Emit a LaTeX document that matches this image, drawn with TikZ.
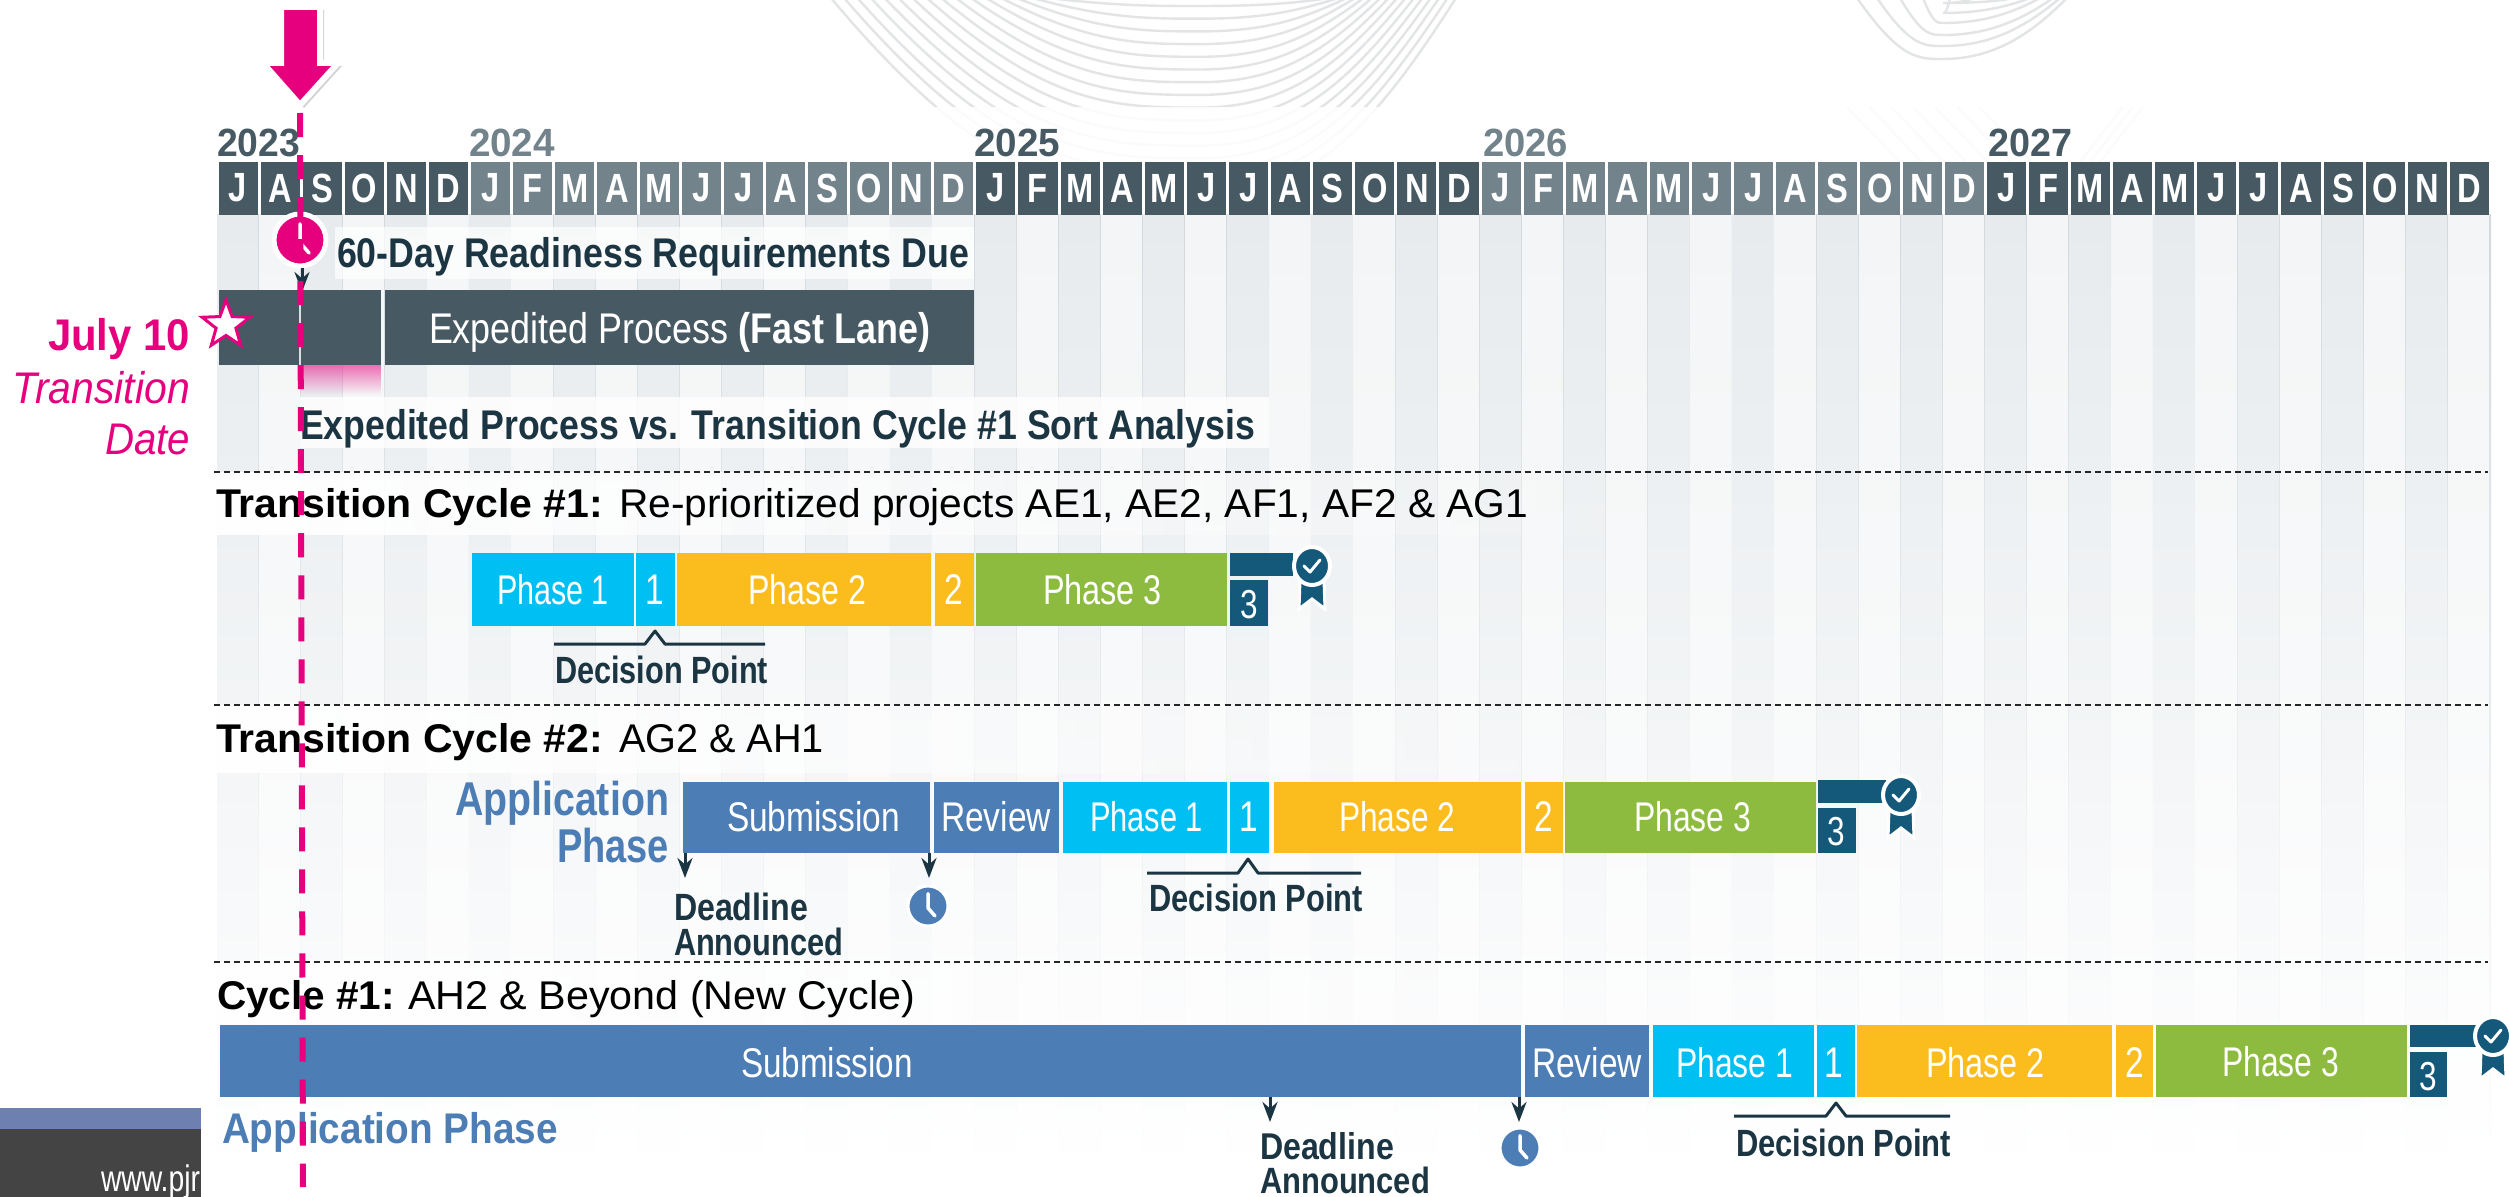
\documentclass[tikz,border=0pt]{standalone}
\usepackage{fontspec}
\usepackage{graphicx}
\setmainfont{Liberation Sans}
\usetikzlibrary{arrows.meta,shapes.geometric,shadows,fadings}
\definecolor{hdark}{HTML}{475A64}
\definecolor{hlight}{HTML}{73838B}
\definecolor{pinkc}{HTML}{E6007E}
\definecolor{inkc}{HTML}{1C3542}
\definecolor{cyanc}{HTML}{00BFF3}
\definecolor{yelc}{HTML}{FBBC1E}
\definecolor{grnc}{HTML}{8DBB3F}
\definecolor{bluec}{HTML}{4C7DB5}
\definecolor{tealc}{HTML}{14597A}
\definecolor{colA}{HTML}{E7EBEE}
\definecolor{colB}{HTML}{F3F5F6}
\definecolor{gridc}{HTML}{D3D9DD}
\definecolor{swirlc}{HTML}{E2E4E6}
\definecolor{footA}{HTML}{6E80B0}
\definecolor{footB}{HTML}{444444}
\newlength\px \setlength\px{0.01cm}
\tikzset{
  tx/.style={anchor=base west,inner sep=0pt,outer sep=0pt},
  cx/.style={anchor=center,inner sep=0pt,outer sep=0pt,text=white},
  dline/.style={draw=black!85,line width=0.022cm,dash pattern=on 0.06cm off 0.04cm},
  ink/.style={text=inkc,font=\bfseries},
  wht/.style={text=white},
  downarrow/.style={draw=inkc,line width=0.03cm,-{Stealth[length=0.2cm,width=0.15cm]}},
  decline/.style={draw=inkc,line width=0.03cm,line join=round},
  swirl/.style={draw=swirlc,line width=0.024cm}
}
% text fitted between x1 and x2, visual centre of capitals at yc
\newcommand\TX[7]{\pgfmathsetmacro\tw{#3-#2}\node[tx,#6,yshift={-0.358*#5*1pt}] (#1) at (#2,#4) {\resizebox{\tw\px}{\height}{\fontsize{#5}{#5}\selectfont #7}};}
\newcommand\CX[5]{\node[cx] (#1) at (#2,#3) {\scalebox{0.78}[1]{\fontsize{#4}{#4}\selectfont #5}};}
\newcommand\BAR[6]{\fill[#6] (#2,#4) rectangle (#3,#5) coordinate (#1);}
\newcommand\DEC[6]{\coordinate (#1a) at (#2,#5);\coordinate (#1b) at ({#3-10},#5);\coordinate (#1c) at (#3,#6);\coordinate (#1d) at ({#3+10},#5);\coordinate (#1e) at (#4,#5);\draw[decline] (#1a)--(#1b)--(#1c)--(#1d)--(#1e);}
\newcommand\CLK[5]{\fill[#4,draw=white,line width=#5] (#1,#2) circle (#3);
  \draw[white,line width=0.035cm,line cap=round,line join=round] (#1,{#2-0.62*#3})--(#1,{#2+0.1*#3})--({#1+0.35*#3},{#2+0.5*#3});}
\newcommand\BADGE[2]{\fill[tealc,draw=white,line width=0.03cm] ({#1-12},{#2+14}) -- ({#1+12},{#2+14}) -- ({#1+13},{#2+43}) -- (#1,{#2+33}) -- ({#1-13},{#2+43}) -- cycle;
  \fill[tealc,draw=white,line width=0.04cm] (#1,#2) circle [x radius=18,y radius=19];
  \draw[white,line width=0.03cm,line cap=round,line join=round] ({#1-8},#2)--({#1-2},{#2+6})--({#1+8},{#2-6});}
% nested bowls of the background
\newcommand\BOWLA{\foreach \k in {0,...,15}{
  \pgfmathsetmacro\yb{6+12.7*\k}
  \pgfmathsetmacro\xl{831+13*(15-\k)+0.1*(15-\k)*(15-\k)}
  \pgfmathsetmacro\xr{1330+8.4*\k}
  \draw[swirl] (\xl,-2) .. controls ({\xl+0.45*(1200-\xl)},\yb) and ({1200-0.3*(1200-\xl)},\yb) .. (1200,\yb)
     .. controls ({1200+0.45*(\xr-1200)},\yb) and ({\xr-0.3*(\xr-1200)},{0.6*\yb}) .. (\xr,-2);}}
\newcommand\BOWLB{\foreach \k/\yb/\xl/\xr in {0/59/1857/2067,1/46/1877/2060,2/35/1900/2053,3/23/1923/2040,4/13/1950/2030,5/3/1975/2015}{
  \draw[swirl] (\xl,-2) .. controls ({\xl+0.5*(1943-\xl)},\yb) and ({1943-0.3*(1943-\xl)},\yb) .. (1943,\yb)
     .. controls ({1943+0.4*(\xr-1943)},\yb) and ({\xr-0.3*(\xr-1943)},{0.6*\yb}) .. (\xr,-2);}}
\begin{document}
\begin{tikzpicture}[x=0.01cm,y=-0.01cm]
\useasboundingbox (0,0) rectangle (2509,1197);
\fill[white] (0,0) rectangle (2509,1197);
% background swirls
\begin{scope}
\clip (800,0) rectangle (2150,107);
\BOWLA
\BOWLB
\end{scope}
\begin{scope}
\clip (800,107) rectangle (2150,162);
\begin{scope}[opacity=0.12]
\BOWLA
\foreach \k in {0,...,6}{
  \draw[swirl] ({1847+\k*22},107) -- ({1900+\k*22},162);
}
\foreach \k in {0,...,2}{
  \draw[swirl] ({2143-\k*10},107) -- ({2100-\k*10},162);
}
\end{scope}
\end{scope}
% footer
\fill[footA] (0,1108) rectangle (201,1129);
\fill[footB] (0,1129) rectangle (201,1197);
\TX{www}{101}{200}{1178}{10.5}{text=white}{www.pjr}
% columns and header
\foreach \l [count=\n from 0] in {J,A,S,O,N,D,J,F,M,A,M,J,J,A,S,O,N,D,J,F,M,A,M,J,J,A,S,O,N,D,J,F,M,A,M,J,J,A,S,O,N,D,J,F,M,A,M,J,J,A,S,O,N,D}{
  \pgfmathsetmacro\xa{217+\n*42.1}
  \pgfmathsetmacro\xb{\xa+42.1}
  \pgfmathtruncatemacro\odd{mod(\n,2)}
  \pgfmathtruncatemacro\yr{mod(floor((\n+6)/12),2)}
  \ifnum\odd=0 \def\cc{colA}\else\def\cc{colB}\fi
  \ifnum\yr=0 \def\mc{hdark}\else\def\mc{hlight}\fi
  \shade[top color=\cc,bottom color=white,middle color=\cc!55!white] (\xa,215) rectangle (\xb,1173);
  \shade[top color=gridc,bottom color=white] ({\xb-0.7},215) rectangle ({\xb+0.7},1173);
  \fill[\mc] ({\xa+1.5},162) rectangle ({\xb-1.5},215);
  \node[cx] (month\n) at ({(\xa+\xb)/2},188) {\fontsize{11.6}{11.6}\selectfont\bfseries\scalebox{0.8}[1]{\l}};
}
% translucent bands
\fill[white,opacity=0.7] (335,227) rectangle (974,279);
\fill[white,opacity=0.8] (300,397) rectangle (1269,448);
\fill[white,path fading=east] (201,472) rectangle (1700,535);
\fill[white,path fading=east] (201,705) rectangle (1700,773);
\fill[white,path fading=east] (201,962) rectangle (1700,1024);
% years
\TX{y23}{217}{300}{142}{11.2}{text=hdark,font=\bfseries}{2023}
\TX{y24}{469}{555}{142}{11.2}{text=hlight,font=\bfseries}{2024}
\TX{y25}{974}{1060}{142}{11.2}{text=hdark,font=\bfseries}{2025}
\TX{y26}{1483}{1568}{142}{11.2}{text=hlight,font=\bfseries}{2026}
\TX{y27}{1988}{2072}{142}{11.2}{text=hdark,font=\bfseries}{2027}
% expedited process
\BAR{ex1}{219}{381}{290}{365}{hdark}
\BAR{ex2}{385}{974}{290}{365}{hdark}
\draw[white!80!hdark,line width=0.012cm] (300,290)--(300,365);
\fill[pinkc,opacity=0.55,path fading=south] (300,365) rectangle (381,395);
\TX{exptext}{429}{930}{328}{12.2}{wht}{Expedited Process \textbf{(Fast Lane)}}
\TX{ready}{337}{969}{253}{11.8}{ink}{60-Day Readiness Requirements Due}
\TX{sort}{300}{1255}{425}{11.8}{ink}{Expedited Process vs. Transition Cycle \#1 Sort Analysis}
% left labels
\TX{jul}{48}{190}{335}{12.6}{text=pinkc,font=\bfseries}{July 10}
\TX{trans}{13}{190}{388}{12.6}{text=pinkc,font=\itshape}{Transition}
\TX{date}{105}{190}{439}{12.6}{text=pinkc,font=\itshape}{Date}
\node[star,star points=5,star point ratio=2.4,draw=pinkc,fill=white,line width=0.03cm,minimum size=0.5cm,inner sep=0pt] (julystar) at (226,325) {};
% separators
\coordinate (s1a) at (214,472);\coordinate (s1b) at (2488,472);
\coordinate (s2a) at (214,705);\coordinate (s2b) at (2488,705);
\coordinate (s3a) at (214,962);\coordinate (s3b) at (2488,962);
\draw[dline] (s1a)--(s1b);\draw[dline] (s2a)--(s2b);\draw[dline] (s3a)--(s3b);
% section titles
\TX{t1a}{216}{603}{503}{11.4}{text=black,font=\bfseries}{Transition Cycle \#1:}
\TX{t1b}{619}{1528}{503}{11.4}{text=black}{Re-prioritized projects AE1, AE2, AF1, AF2 \& AG1}
\TX{t2a}{216}{603}{738}{11.4}{text=black,font=\bfseries}{Transition Cycle \#2:}
\TX{t2b}{619}{824}{738}{11.4}{text=black}{AG2 \& AH1}
\TX{t3a}{217}{395}{995}{11.4}{text=black,font=\bfseries}{Cycle \#1:}
\TX{t3b}{408}{915}{995}{11.4}{text=black}{AH2 \& Beyond (New Cycle)}
% cycle 1
\BAR{c1p1}{472}{634}{553}{626}{cyanc}
\BAR{c1d1}{636}{674.5}{553}{626}{cyanc}
\BAR{c1p2}{677}{931}{553}{626}{yelc}
\BAR{c1d2}{935}{974}{553}{626}{yelc}
\BAR{c1p3}{976}{1227}{553}{626}{grnc}
\BAR{c1t}{1230}{1293}{553}{576}{tealc}
\BAR{c1b}{1230}{1268}{580}{626}{tealc}
\BADGE{1312}{566}
\TX{c1tp1}{497}{609}{590}{11.8}{wht}{Phase 1}
\CX{c1t1}{655}{590}{12.2}{1}
\TX{c1tp2}{748}{866}{590}{11.8}{wht}{Phase 2}
\CX{c1t2}{954}{590}{12.2}{2}
\TX{c1tp3}{1043}{1162}{590}{11.8}{wht}{Phase 3}
\CX{c1t3}{1249}{605}{11.5}{3}
\DEC{d1}{554}{655}{765}{644}{631}
\TX{c1dp}{555}{768}{670}{10.8}{ink}{Decision Point}
% cycle 2
\BAR{c2s}{683}{930}{782}{853}{bluec}
\BAR{c2r}{934}{1059}{782}{853}{bluec}
\BAR{c2p1}{1063}{1226.5}{782}{853}{cyanc}
\BAR{c2d1}{1230}{1269}{782}{853}{cyanc}
\BAR{c2p2}{1274}{1521}{782}{853}{yelc}
\BAR{c2d2}{1525}{1563}{782}{853}{yelc}
\BAR{c2p3}{1565}{1816}{782}{853}{grnc}
\BAR{c2t}{1818}{1886}{780}{803}{tealc}
\BAR{c2b}{1818}{1856}{808}{853}{tealc}
\BADGE{1901}{795}
\TX{c2app1}{455}{669}{798}{13.5}{text=bluec,font=\bfseries}{Application}
\TX{c2app2}{557}{669}{845}{13.5}{text=bluec,font=\bfseries}{Phase}
\TX{c2ts}{727}{900}{817}{11.8}{wht}{Submission}
\TX{c2tr}{941}{1051}{817}{11.8}{wht}{Review}
\TX{c2tp1}{1090}{1203}{817}{11.8}{wht}{Phase 1}
\CX{c2t1}{1249}{817}{12.2}{1}
\TX{c2tp2}{1339}{1455}{817}{11.8}{wht}{Phase 2}
\CX{c2t2}{1544}{817}{12.2}{2}
\TX{c2tp3}{1634}{1751}{817}{11.8}{wht}{Phase 3}
\CX{c2t3}{1836}{832}{11.5}{3}
\coordinate (c2a1) at (685,853);\coordinate (c2a2) at (685,878);
\coordinate (c2a3) at (929,853);\coordinate (c2a4) at (929,878);
\draw[downarrow] (c2a1)--(c2a2);
\draw[downarrow] (c2a3)--(c2a4);
\CLK{928}{906}{20}{bluec}{0.03cm}
\TX{c2dl1}{674}{808}{907}{10.8}{ink}{Deadline}
\TX{c2dl2}{674}{843}{942}{10.8}{ink}{Announced}
\DEC{d2}{1147}{1248}{1361}{873}{859}
\TX{c2dp}{1149}{1363}{898}{10.8}{ink}{Decision Point}
% cycle 3
\BAR{c3s}{220}{1521}{1025}{1097}{bluec}
\BAR{c3r}{1525}{1649}{1025}{1097}{bluec}
\BAR{c3p1}{1653}{1814}{1025}{1097}{cyanc}
\BAR{c3d1}{1817}{1855}{1025}{1097}{cyanc}
\BAR{c3p2}{1857}{2111.5}{1025}{1097}{yelc}
\BAR{c3d2}{2116}{2153}{1025}{1097}{yelc}
\BAR{c3p3}{2156}{2407}{1025}{1097}{grnc}
\BAR{c3t}{2410}{2478}{1025}{1047}{tealc}
\BAR{c3b}{2410}{2447}{1052}{1097}{tealc}
\BADGE{2493}{1036}
\TX{c3ts}{741}{913}{1063}{11.8}{wht}{Submission}
\TX{c3tr}{1532}{1642}{1063}{11.8}{wht}{Review}
\TX{c3tp1}{1676}{1793}{1063}{11.8}{wht}{Phase 1}
\CX{c3t1}{1834}{1063}{12.2}{1}
\TX{c3tp2}{1926}{2045}{1063}{11.8}{wht}{Phase 2}
\CX{c3t2}{2135}{1063}{12.2}{2}
\TX{c3tp3}{2222}{2339}{1062}{11.8}{wht}{Phase 3}
\CX{c3t3}{2428}{1077}{11.5}{3}
\TX{c3app}{222}{558}{1128}{12.2}{text=bluec,font=\bfseries}{Application Phase}
\coordinate (c3a1) at (1270,1097);\coordinate (c3a2) at (1270,1122);
\coordinate (c3a3) at (1519,1097);\coordinate (c3a4) at (1519,1122);
\draw[downarrow] (c3a1)--(c3a2);
\draw[downarrow] (c3a3)--(c3a4);
\CLK{1520}{1148}{20}{bluec}{0.03cm}
\TX{c3dl1}{1260}{1394}{1146}{10.6}{ink}{Deadline}
\TX{c3dl2}{1260}{1430}{1180}{10.4}{ink}{Announced}
\DEC{d3}{1734}{1836}{1950}{1116}{1103}
\TX{c3dp}{1736}{1951}{1143}{10.8}{ink}{Decision Point}
% pink marker
\CLK{300}{240}{26}{pinkc}{0.05cm}
\coordinate (pa1) at (302,268);\coordinate (pa2) at (302,292);
\draw[downarrow] (pa1)--(pa2);
\coordinate (ptop) at (300,113);\coordinate (pbot) at (303,1187);
\draw[pinkc,line width=0.06cm,dash pattern=on 0.24cm off 0.18cm] (ptop)--(pbot);
\fill[pinkc,draw=white,line width=0.06cm,miter limit=10,drop shadow={shadow xshift=0.04cm,shadow yshift=-0.03cm,opacity=0.35}]
  (281,7) -- (320,7) -- (320,63) -- (338,63) -- (300,105) -- (263,63) -- (281,63) -- cycle;
\end{tikzpicture}
\end{document}
